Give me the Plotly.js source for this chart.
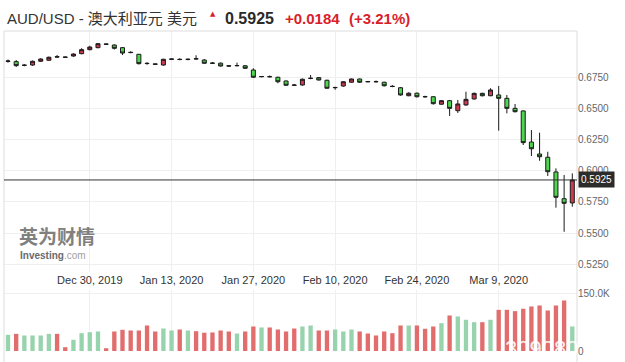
<!DOCTYPE html>
<html>
<head>
<meta charset="utf-8">
<script src="https://cdn.plot.ly/plotly-3.0.1.min.js"></script>
<style>html,body{margin:0;padding:0;background:#fff;}#chart{width:625px;height:362px;}</style>
</head>
<body>
<div id="chart"></div>
<script>
// ---- data ----
const dates = [
"2019-12-16","2019-12-17","2019-12-18","2019-12-19","2019-12-20","2019-12-23","2019-12-24","2019-12-25","2019-12-26","2019-12-27",
"2019-12-30","2019-12-31","2020-01-01","2020-01-02","2020-01-03","2020-01-06","2020-01-07","2020-01-08","2020-01-09","2020-01-10",
"2020-01-13","2020-01-14","2020-01-15","2020-01-16","2020-01-17","2020-01-20","2020-01-21","2020-01-22","2020-01-23","2020-01-24",
"2020-01-27","2020-01-28","2020-01-29","2020-01-30","2020-01-31","2020-02-03","2020-02-04","2020-02-05","2020-02-06","2020-02-07",
"2020-02-10","2020-02-11","2020-02-12","2020-02-13","2020-02-14","2020-02-17","2020-02-18","2020-02-19","2020-02-20","2020-02-21",
"2020-02-24","2020-02-25","2020-02-26","2020-02-27","2020-02-28","2020-03-02","2020-03-03","2020-03-04","2020-03-05","2020-03-06",
"2020-03-09","2020-03-10","2020-03-11","2020-03-12","2020-03-13","2020-03-16","2020-03-17","2020-03-18","2020-03-19","2020-03-20"];
const open = [
0.6875,0.6873,0.6843,0.6846,0.6876,0.6884,0.6913,0.6910,0.6918,0.6937,
0.6969,0.6985,0.7015,0.7006,0.6985,0.6948,0.6932,0.6860,0.6855,0.6846,
0.6892,0.6892,0.6890,0.6897,0.6886,0.6862,0.6861,0.6840,0.6840,0.6840,
0.6806,0.6752,0.6754,0.6748,0.6718,0.6686,0.6686,0.6738,0.6745,0.6724,
0.6664,0.6678,0.6708,0.6734,0.6714,0.6714,0.6708,0.6676,0.6664,0.6600,
0.6620,0.6593,0.6592,0.6532,0.6560,0.6480,0.6526,0.6574,0.6619,0.6600,
0.6606,0.6579,0.6499,0.6478,0.6229,0.6133,0.6107,0.5989,0.5775,0.5741];
const high = [
0.6890,0.6886,0.6852,0.6882,0.6900,0.6914,0.6926,0.6914,0.6940,0.6981,
0.7000,0.7022,0.7018,0.7012,0.6990,0.6956,0.6934,0.6868,0.6858,0.6896,
0.6896,0.6900,0.6898,0.6924,0.6894,0.6870,0.6866,0.6846,0.6865,0.6846,
0.6820,0.6756,0.6762,0.6752,0.6722,0.6694,0.6738,0.6766,0.6750,0.6728,
0.6672,0.6716,0.6738,0.6738,0.6718,0.6722,0.6712,0.6684,0.6670,0.6628,
0.6626,0.6600,0.6596,0.6566,0.6566,0.6566,0.6632,0.6625,0.6624,0.6660,
0.6678,0.6606,0.6534,0.6482,0.6325,0.6304,0.6151,0.6018,0.5965,0.5978];
const low = [
0.6865,0.6830,0.6836,0.6840,0.6870,0.6880,0.6906,0.6904,0.6912,0.6932,
0.6964,0.6980,0.7008,0.6970,0.6926,0.6940,0.6850,0.6848,0.6848,0.6840,
0.6888,0.6884,0.6884,0.6890,0.6856,0.6854,0.6834,0.6832,0.6835,0.6815,
0.6744,0.6748,0.6746,0.6700,0.6678,0.6678,0.6680,0.6732,0.6722,0.6656,
0.6648,0.6672,0.6704,0.6702,0.6708,0.6706,0.6674,0.6668,0.6600,0.6596,
0.6585,0.6584,0.6530,0.6528,0.6438,0.6462,0.6520,0.6570,0.6594,0.6596,
0.6320,0.6459,0.6466,0.6205,0.6117,0.6079,0.5957,0.5703,0.5510,0.5711];
const close = [
0.6878,0.6841,0.6845,0.6876,0.6894,0.6908,0.6910,0.6908,0.6934,0.6969,
0.6990,0.7017,0.7012,0.6980,0.6942,0.6946,0.6857,0.6858,0.6852,0.6892,
0.6894,0.6890,0.6892,0.6895,0.6860,0.6860,0.6838,0.6838,0.6842,0.6820,
0.6748,0.6754,0.6752,0.6712,0.6684,0.6684,0.6732,0.6740,0.6726,0.6660,
0.6666,0.6712,0.6734,0.6708,0.6712,0.6712,0.6680,0.6674,0.6606,0.6620,
0.6592,0.6592,0.6536,0.6560,0.6499,0.6534,0.6571,0.6619,0.6600,0.6646,
0.6579,0.6499,0.6472,0.6224,0.6175,0.6111,0.5991,0.5786,0.5738,0.5925];
const volume = [
42500,45000,40700,40700,40700,45000,45000,10000,29400,46700,
49300,51200,7300,51200,55600,53800,53800,66900,51200,59000,
53800,56400,53800,52000,48000,48600,53800,51200,45900,51200,
64300,61700,61700,56400,51200,59000,64300,66900,53800,53800,
56400,51200,56400,51200,45900,40700,51200,46700,66900,66900,
66900,58300,64300,73000,93200,90600,81900,75600,75600,81900,
108000,108000,104500,110800,116800,119400,106300,119400,132500,64300];
const dateTickVals = ["2019-12-30","2020-01-13","2020-01-27","2020-02-10","2020-02-24","2020-03-09"];
const dateTickText = ["Dec 30, 2019","Jan 13, 2020","Jan 27, 2020","Feb 10, 2020","Feb 24, 2020","Mar 9, 2020"];
const priceTicks = [0.525,0.55,0.575,0.6,0.625,0.65,0.675];
const priceTickText = ["0.5250","0.5500","0.5750","0.6000","0.6250","0.6500","0.6750"];
const volTicks = [0,150000];
const volTickText = ["0","150.0K"];
const lastPrice = 0.5925;
const change = "+0.0184";
const changePct = "(+3.21%)";

// ---- styling / layout ----
const W = 625, H = 362, ML = 4, MR = 48, MT = 31, MB = 11;
const PW = W - ML - MR, PH = H - MT - MB;
const px = x => (x - ML) / PW;
const py = y => (H - MB - y) / PH;

const volColors = close.map((c, i) => c > open[i] ? '#97d3ad' : '#e26d6d');
const FONT = 'Arial, "Liberation Sans", "Noto Sans CJK SC", sans-serif';

const traces = [
  {
    type: 'candlestick', x: dates, open: open, high: high, low: low, close: close,
    xaxis: 'x', yaxis: 'y',
    increasing: {line: {color: '#1a1a1a', width: 1}, fillcolor: '#cc3b50'},
    decreasing: {line: {color: '#1a1a1a', width: 1}, fillcolor: '#4fd64f'},
    whiskerwidth: 0, hoverinfo: 'skip'
  },
  {
    type: 'bar', x: dates, y: volume, xaxis: 'x2', yaxis: 'y2',
    marker: {color: volColors, line: {width: 0}}, hoverinfo: 'skip'
  }
];

const layout = {
  width: W, height: H,
  margin: {l: ML, r: MR, t: MT, b: MB, pad: 0},
  paper_bgcolor: '#ffffff', plot_bgcolor: '#ffffff',
  showlegend: false,
  font: {family: FONT, color: '#333'},
  bargap: 0.47,
  boxgap: 0.3,
  xaxis: {
    type: 'category', domain: [0, 1], anchor: 'y', range: [-0.49, 69.575],
    tickvals: dateTickVals, ticktext: dateTickText, tickfont: {size: 11, color: '#333', family: FONT},
    showgrid: true, gridcolor: '#efefef', gridwidth: 1, ticks: '', zeroline: false, showline: false,
    rangeslider: {visible: false}, fixedrange: true
  },
  xaxis2: {
    type: 'category', matches: 'x', anchor: 'y2', range: [-0.49, 69.575],
    tickvals: dateTickVals, showticklabels: false, showgrid: true, gridcolor: '#efefef',
    ticks: '', zeroline: false, showline: false, rangeslider: {visible: false}
  },
  yaxis: {
    domain: [py(272), 1], anchor: 'x', side: 'right', range: [0.51875, 0.71186],
    tickvals: priceTicks, ticktext: priceTickText, tickfont: {size: 10, color: '#666', family: FONT},
    showgrid: true, gridcolor: '#efefef', zeroline: false, showline: false, ticks: ''
  },
  yaxis2: {
    domain: [0, py(290)], anchor: 'x2', side: 'right', range: [0, 160000],
    tickvals: volTicks, ticktext: volTickText, tickfont: {size: 10, color: '#666', family: FONT},
    showgrid: true, gridcolor: '#efefef', zeroline: false, showline: false, ticks: ''
  },
  shapes: [
    {type: 'line', xref: 'paper', yref: 'paper', x0: 0, x1: 0, y0: 1, y1: py(362), line: {color: '#dddddd', width: 1}},
    {type: 'line', xref: 'paper', yref: 'paper', x0: 1, x1: 1, y0: 1, y1: py(362), line: {color: '#dddddd', width: 1}},
    {type: 'line', xref: 'paper', yref: 'paper', x0: 0, x1: 1, y0: 1, y1: 1, line: {color: '#dddddd', width: 1}},
    {type: 'line', xref: 'paper', yref: 'y', x0: 0, x1: 1, y0: lastPrice, y1: lastPrice, line: {color: '#333333', width: 1}}
  ],
  annotations: [
    {xref: 'paper', yref: 'paper', x: px(5), y: py(19), xanchor: 'left', yanchor: 'middle', showarrow: false,
     text: 'AUD/USD - 澳大利亚元 美元', font: {size: 15, color: '#333', family: FONT}},
    {xref: 'paper', yref: 'paper', x: px(213), y: py(14), xanchor: 'center', yanchor: 'middle', showarrow: false,
     text: '▲', font: {size: 7, color: '#d91e2a', family: 'DejaVu Sans'}},
    {xref: 'paper', yref: 'paper', x: px(223), y: py(19), xanchor: 'left', yanchor: 'middle', showarrow: false,
     text: '<b>' + lastPrice.toFixed(4) + '</b>', font: {size: 16, color: '#2a2a2a', family: FONT}},
    {xref: 'paper', yref: 'paper', x: px(283), y: py(19), xanchor: 'left', yanchor: 'middle', showarrow: false,
     text: '<b>' + change + '</b>', font: {size: 15, color: '#d91e2a', family: FONT}},
    {xref: 'paper', yref: 'paper', x: px(347), y: py(19), xanchor: 'left', yanchor: 'middle', showarrow: false,
     text: '<b>' + changePct + '</b>', font: {size: 15, color: '#d91e2a', family: FONT}},
    {xref: 'paper', yref: 'y', x: px(578), y: lastPrice, xanchor: 'left', yanchor: 'middle', showarrow: false,
     text: lastPrice.toFixed(4), bgcolor: '#2b2b2b', borderpad: 2, font: {size: 10, color: '#ffffff', family: FONT}},
    {xref: 'paper', yref: 'paper', x: px(17), y: py(235), xanchor: 'left', yanchor: 'middle', showarrow: false,
     text: '<b>英为财情</b>', font: {size: 19, color: '#808080', family: '"Noto Sans CJK SC", sans-serif'}},
    {xref: 'paper', yref: 'paper', x: px(18), y: py(255), xanchor: 'left', yanchor: 'middle', showarrow: false,
     text: '<b>Investing</b><span style="color:#a0a0a0">.com</span>', font: {size: 10, color: '#6a6a6a', family: FONT}},
    {xref: 'paper', yref: 'paper', x: px(503), y: py(348), xanchor: 'left', yanchor: 'middle', showarrow: false,
     text: '309080', font: {size: 22, color: 'rgba(255,255,255,0.9)', family: FONT}}
  ]
};

Plotly.newPlot('chart', traces, layout, {staticPlot: true, displayModeBar: false});
</script>
</body>
</html>
